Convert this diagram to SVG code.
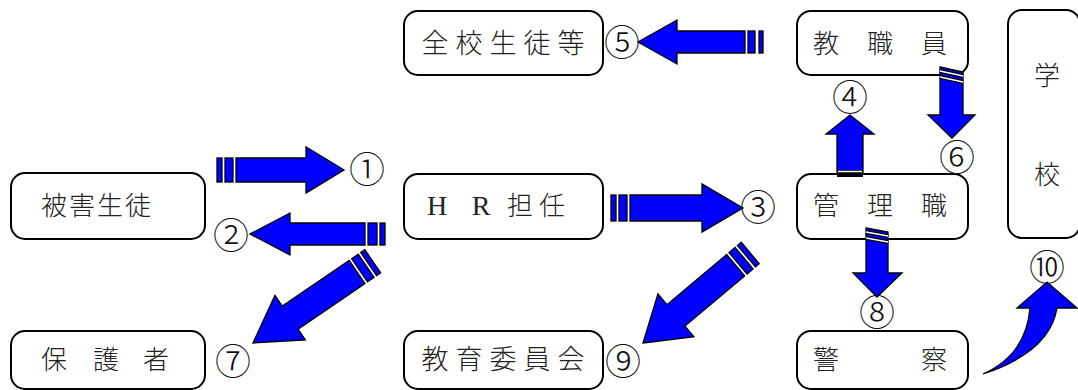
<svg xmlns="http://www.w3.org/2000/svg" width="1078" height="390" viewBox="0 0 1078 390">
<style>
.box{fill:#fff;stroke:#000;stroke-width:2}
.lbl{font-family:"Noto Sans CJK JP","Noto Sans CJK SC",sans-serif;font-size:26px;font-weight:300;fill:#222;text-anchor:middle}
.big{font-size:27px}
.lat{font-family:"Liberation Serif",serif;font-size:28px;font-weight:normal}
.num{font-family:"Noto Sans CJK JP",sans-serif;font-size:36px;font-weight:300;fill:#111;text-anchor:middle}
.ar{fill:#0000ff;stroke:#000;stroke-width:1.3;stroke-linejoin:miter}
.blk{fill:#000}
.wl{stroke:#fff;stroke-width:1.5}
.bl{stroke:#000;stroke-width:4}
</style>
<rect width="1078" height="390" fill="#fff"/>
<g id="node-zenkou">
<rect class="box" x="404" y="11" width="199" height="64" rx="14"/>
<text class="lbl big" y="53"><tspan x="435">全</tspan><tspan x="469">校</tspan><tspan x="503">生</tspan><tspan x="537">徒</tspan><tspan x="571">等</tspan></text>
</g>
<g id="node-kyoshokuin">
<rect class="box" x="797" y="11" width="171" height="64" rx="14"/>
<text class="lbl" y="53"><tspan x="826">教</tspan><tspan x="880">職</tspan><tspan x="934">員</tspan></text>
</g>
<g id="node-gakkou">
<rect class="box" x="1008" y="10" width="72" height="228" rx="14"/>
<text class="lbl" y="85"><tspan x="1047">学</tspan><tspan x="1047" y="184">校</tspan></text>
</g>
<g id="node-higai">
<rect class="box" x="11" y="173" width="194" height="66" rx="14"/>
<text class="lbl" x="97" y="215" letter-spacing="2">被害生徒</text>
</g>
<g id="node-hr">
<rect class="box" x="404" y="174" width="199" height="65" rx="14"/>
<text class="lbl" y="215"><tspan class="lat" x="437">H</tspan><tspan class="lat" x="481">R</tspan><tspan x="520">担</tspan><tspan x="552">任</tspan></text>
</g>
<g id="node-kanri">
<rect class="box" x="797" y="174" width="171" height="65" rx="14"/>
<text class="lbl" y="215"><tspan x="826">管</tspan><tspan x="880">理</tspan><tspan x="934">職</tspan></text>
</g>
<g id="node-hogo">
<rect class="box" x="11" y="331" width="194" height="58" rx="14"/>
<text class="lbl" y="369"><tspan x="54">保</tspan><tspan x="106">護</tspan><tspan x="156">者</tspan></text>
</g>
<g id="node-kyoiku">
<rect class="box" x="404" y="331" width="199" height="58" rx="14"/>
<text class="lbl big" y="369"><tspan x="435">教</tspan><tspan x="469">育</tspan><tspan x="503">委</tspan><tspan x="537">員</tspan><tspan x="571">会</tspan></text>
</g>
<g id="node-keisatsu">
<rect class="box" x="797" y="331" width="171" height="58" rx="14"/>
<text class="lbl" y="369"><tspan x="826">警</tspan><tspan x="934">察</tspan></text>
</g>
<g id="connectors">
<path class="ar" d="M236,158 L306,158 L306,147 L344,170 L306,193 L306,182 L236,182 Z"/>
<rect class="ar" x="225" y="158" width="8" height="24"/>
<rect class="ar" x="217" y="158" width="5" height="24"/>
<path class="ar" d="M365,223 L290,223 L290,213 L250,234 L290,255 L290,245 L365,245 Z"/>
<rect class="ar" x="368" y="223" width="9" height="22"/>
<rect class="ar" x="380" y="223" width="5" height="22"/>
<path class="ar" d="M630,195 L702,195 L702,184 L743,208 L702,232 L702,221 L630,221 Z"/>
<rect class="ar" x="619" y="195" width="8" height="26"/>
<rect class="ar" x="611" y="195" width="5" height="26"/>
<path class="ar" d="M745,31 L677,31 L677,20 L638,42 L677,64 L677,53 L745,53 Z"/>
<rect class="ar" x="748" y="31" width="7" height="22"/>
<rect class="ar" x="759" y="31" width="4" height="22"/>
<path class="ar" d="M837,172 L837,134 L826,134 L850,115 L874,134 L863,134 L863,172 Z"/>
<rect class="blk" x="837" y="170" width="26" height="7"/>
<line class="wl" x1="838" y1="171.5" x2="862" y2="171.5"/>
<path class="ar" d="M940,67 L963,72 L963,115 L975,115 L952,138 L928,115 L940,115 Z"/>
<line class="bl" x1="940" y1="71" x2="963" y2="76"/>
<line class="wl" x1="940" y1="71" x2="963" y2="76"/>
<line class="bl" x1="940" y1="77" x2="963" y2="82"/>
<line class="wl" x1="940" y1="77" x2="963" y2="82"/>
<path class="ar" d="M866,228 L888,232 L888,273 L902,273 L877,297 L853,273 L866,273 Z"/>
<line class="bl" x1="866" y1="232" x2="888" y2="236"/>
<line class="wl" x1="866" y1="232" x2="888" y2="236"/>
<line class="bl" x1="866" y1="238" x2="888" y2="242"/>
<line class="wl" x1="866" y1="238" x2="888" y2="242"/>
<g transform="translate(253,343) rotate(145.7)">
<path class="ar" d="M0,0 L-45,-27 L-45,-14 L-126,-14 L-126,14 L-45,14 L-45,27 Z"/>
<rect class="ar" x="-137" y="-14" width="8" height="28"/>
<rect class="ar" x="-145" y="-14" width="5" height="28"/>
</g>
<g transform="translate(643,343) rotate(140)">
<path class="ar" d="M0,0 L-43,-28 L-43,-14 L-121,-14 L-121,14 L-43,14 L-43,28 Z"/>
<rect class="ar" x="-132" y="-14" width="8" height="28"/>
<rect class="ar" x="-140" y="-14" width="5" height="28"/>
</g>
<path class="ar" d="M983,374 Q1050,352 1057,308 L1077,308 L1047,282 L1017,308 L1030,308 Q1026,355 983,374 Z"/>
</g>
<g id="labels">
<text class="num" x="367" y="183">①</text>
<text class="num" x="231" y="249">②</text>
<text class="num" x="758" y="221">③</text>
<text class="num" x="850" y="111">④</text>
<text class="num" x="622" y="56">⑤</text>
<text class="num" x="957" y="171">⑥</text>
<text class="num" x="233" y="375">⑦</text>
<text class="num" x="877" y="326">⑧</text>
<text class="num" x="623" y="375">⑨</text>
<text class="num" x="1047" y="281">⑩</text>
</g>
</svg>
